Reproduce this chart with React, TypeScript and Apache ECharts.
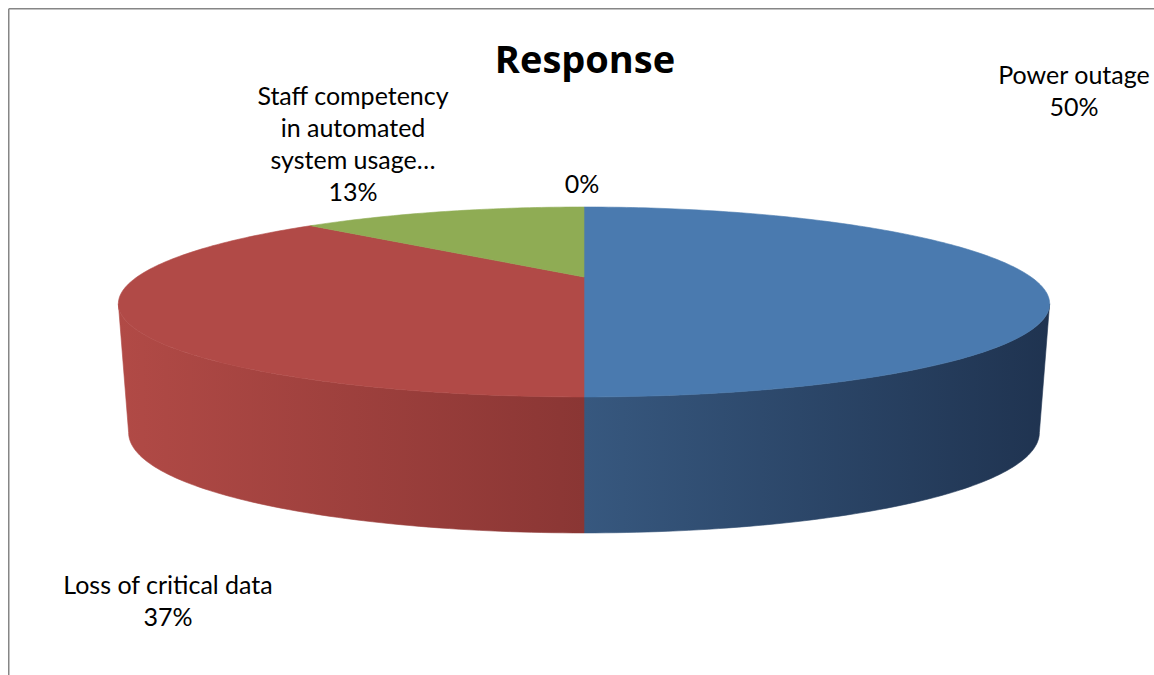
import React, { useEffect, useRef } from "react";
import * as echarts from "echarts";

// ---- data ----
const CATEGORIES = ["Power outage", "Loss of critical data", "Staff competency in automated system usage…", ""];
const LABEL_TEXTS = ["Power outage", "Loss of critical data", "Staff competency\nin automated\nsystem usage…", ""];
const VALUES = [50, 37, 13, 0];
const TITLE = "Response";

// ---- styles / layout ----
const TOP_COLORS = ["#4A7AAF", "#B14A47", "#8FAC54", "#7E649E"];
const WALL_STOPS = [
  ["#37587F", "#1F3350"],
  ["#B14A46", "#8A3634"],
  ["#7A9446", "#5F7436"],
  ["#6A5488", "#4C3C62"],
];
// label anchors: [centerX, firstBaselineY] in page pixels
const LABEL_POS = [
  [1074, 83],
  [168, 593],
  [353, 104],
  [582, 192],
];
const OFF = 8; // container offset
const CX = 584 - OFF;
const CY = 277 - OFF;
const A = 447;
const PX = 0.28;
const B = 88.4;
const PY = 0.263;
const SB = 0.978;
const FONT = "Lato, 'Open Sans', sans-serif";
const FS = 25;
const LH = 32;
const TITLE_FS = 38;
const SIL = (Math.asin(PX) * 180) / Math.PI; // silhouette angle below horizontal

const rad = (d: number) => (d * Math.PI) / 180;
function topPt(t: number): [number, number] {
  const c = Math.cos(rad(t)), s = Math.sin(rad(t));
  return [CX + (A * c) / (1 + PX * s), CY - (B * s) / (1 + PY * s)];
}
function botPt(t: number): [number, number] {
  const c = Math.cos(rad(t)), s = Math.sin(rad(t));
  const yt = CY - (B * s) / (1 + PY * s);
  return [CX + (SB * A * c) / (1 + PX * s), yt + 126 - 10 * s];
}
function arc(f: (t: number) => [number, number], t0: number, t1: number) {
  const n = Math.max(2, Math.ceil(Math.abs(t0 - t1)));
  const out: [number, number][] = [];
  for (let k = 0; k <= n; k++) out.push(f(t0 + ((t1 - t0) * k) / n));
  return out;
}

export default function App() {
  const ref = useRef<HTMLDivElement>(null);
  useEffect(() => {
    if (!ref.current) return;
    const chart = echarts.init(ref.current, null, { renderer: "svg" });
    const total = VALUES.reduce((a, b) => a + b, 0);
    let acc = 0;
    const data = VALUES.map((v, i) => {
      const s = acc / total;
      acc += v;
      return { name: CATEGORIES[i], value: [v, s, acc / total] };
    });

    const renderTop = (params: any, api: any) => {
      const i = params.dataIndex;
      const s = api.value(1), e = api.value(2);
      if (e - s <= 0) return null;
      const t0 = 90 - 360 * s, t1 = 90 - 360 * e;
      const pts = [[CX, CY], ...arc(topPt, t0, t1)];
      return {
        type: "polygon",
        shape: { points: pts },
        style: { fill: TOP_COLORS[i], stroke: TOP_COLORS[i], lineWidth: 0.6 },
      };
    };
    const renderWall = (params: any, api: any) => {
      const i = params.dataIndex;
      const s = api.value(1), e = api.value(2);
      if (e - s <= 0) return null;
      const t0 = 90 - 360 * s, t1 = 90 - 360 * e;
      const a = Math.min(t0, -SIL), b = Math.max(t1, -180 + SIL);
      if (a <= b) return null;
      const pts = [...arc(topPt, a, b), ...arc(botPt, b, a)];
      const grad = new echarts.graphic.LinearGradient(0, 0, 1, 0, [
        { offset: 0, color: WALL_STOPS[i][0] },
        { offset: 1, color: WALL_STOPS[i][1] },
      ]);
      return {
        type: "polygon",
        shape: { points: pts },
        style: { fill: grad, stroke: grad, lineWidth: 0.6 },
      };
    };

    const labels = LABEL_TEXTS.map((txt, i) => {
      const pct = Math.round((VALUES[i] / total) * 100) + "%";
      const text = txt ? txt + "\n" + pct : pct;
      const n = text.split("\n").length;
      return {
        type: "text",
        x: LABEL_POS[i][0] - OFF,
        y: LABEL_POS[i][1] - OFF - 0.36 * FS + ((n - 1) * LH) / 2,
        silent: true,
        style: {
          text,
          fill: "#000",
          fontFamily: FONT,
          fontSize: FS,
          lineHeight: LH,
          align: "center",
          verticalAlign: "middle",
          textAlign: "center",
          textVerticalAlign: "middle",
        },
      };
    });

    chart.setOption({
      animation: false,
      backgroundColor: "#fff",
      graphic: [
        {
          type: "line",
          shape: { x1: 0.75, y1: 0.75, x2: 1200, y2: 0.75 },
          style: { stroke: "#868686", lineWidth: 1.5 },
          silent: true,
        },
        {
          type: "line",
          shape: { x1: 0.75, y1: 0.75, x2: 0.75, y2: 700 },
          style: { stroke: "#868686", lineWidth: 1.5 },
          silent: true,
        },
        {
          type: "text",
          x: 585 - OFF,
          y: 72 - OFF - 0.36 * TITLE_FS,
          silent: true,
          style: {
            text: TITLE,
            fill: "#000",
            fontFamily: "'Open Sans', Lato, sans-serif",
            fontSize: TITLE_FS,
            fontWeight: "bold",
            align: "center",
            verticalAlign: "middle",
            textAlign: "center",
            textVerticalAlign: "middle",
          },
        },
        ...labels,
      ],
      series: [
        {
          type: "custom",
          name: "walls",
          coordinateSystem: "none",
          silent: true,
          z: 2,
          renderItem: renderWall,
          data,
        },
        {
          type: "custom",
          name: "tops",
          coordinateSystem: "none",
          silent: true,
          z: 3,
          renderItem: renderTop,
          data,
        },
      ],
    });
    return () => chart.dispose();
  }, []);
  return (
    <div
      ref={ref}
      style={{ position: "absolute", left: 8, top: 8, width: 1146, height: 667 }}
    />
  );
}
